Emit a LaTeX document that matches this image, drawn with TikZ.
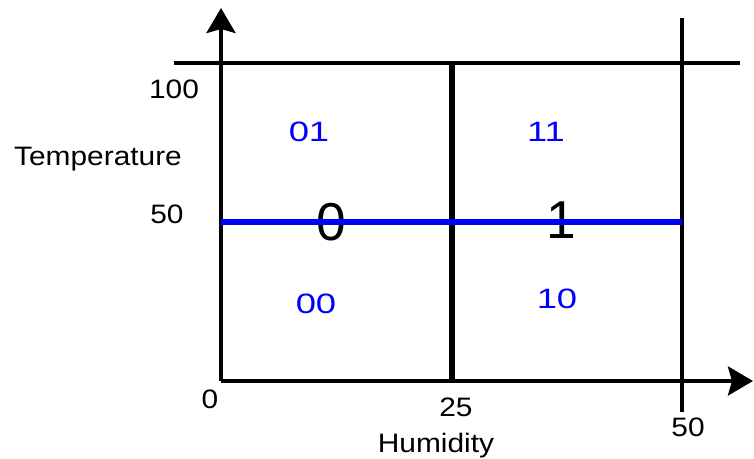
\documentclass[tikz,border=0pt]{standalone}
\usepackage{fontspec}
\setmainfont{Liberation Sans}
\newfontfamily\axfont{Liberation Sans}[FakeStretch=1.12]
\newfontfamily\codefont{Liberation Sans}[FakeStretch=1.3]
\usetikzlibrary{arrows.meta}
\begin{document}
\begin{tikzpicture}[x=0.75pt,y=-0.75pt,
  axisline/.style={line width=3pt,-{Stealth[length=18.75pt,width=21.75pt,inset=3pt]}},
  gridline/.style={line width=2.6pt},
  splitline/.style={line width=5pt},
  blueline/.style={line width=4.5pt,draw={rgb,255:red,0;green,0;blue,255}},
  axlabel/.style={inner sep=0pt,anchor=base,font=\axfont\fontsize{20pt}{23pt}\selectfont},
  codelabel/.style={inner sep=0pt,text={rgb,255:red,0;green,0;blue,255},font=\codefont\fontsize{21pt}{24pt}\selectfont},
  biglabel/.style={inner sep=0pt,font=\fontsize{40pt}{44pt}\selectfont}]
\useasboundingbox (0,0) rectangle (754,459);
% coordinates
\coordinate (o) at (221,381);
\coordinate (ytip) at (221,8);
\coordinate (xtip) at (753,381);
\coordinate (tl) at (174,63);
\coordinate (tr) at (740,63);
\coordinate (rt) at (682,18);
\coordinate (rb) at (682,412);
\coordinate (mt) at (452,63);
\coordinate (mb) at (452,381);
\coordinate (bl) at (221,222);
\coordinate (br) at (682,222);
% labels
\node[axlabel] (l100) at (174,99) {100};
\node[axlabel] (ltemp) at (98,166) {Temperature};
\node[axlabel] (l50y) at (167,224) {50};
\node[axlabel] (l0) at (210,409) {0};
\node[axlabel] (l25) at (456,417) {25};
\node[axlabel] (lhum) at (436,453) {Humidity};
\node[axlabel] (l50x) at (688,437) {50};
\node[codelabel] (c01) at (309,132) {01};
\node[codelabel] (c11) at (546,132) {11};
\node[codelabel] (c00) at (316,304) {00};
\node[codelabel] (c10) at (557,299) {10};
\node[biglabel] (b0) at (331,222) {0};
\node[biglabel] (b1) at (561,220) {1};
% lines
\draw[gridline] (tl) -- (tr);
\draw[gridline] (rt) -- (rb);
\draw[splitline] (mt) -- (mb);
\draw[axisline] (o) -- (ytip);
\draw[axisline] (o) -- (xtip);
\draw[blueline] (bl) -- (br);
\end{tikzpicture}
\end{document}
